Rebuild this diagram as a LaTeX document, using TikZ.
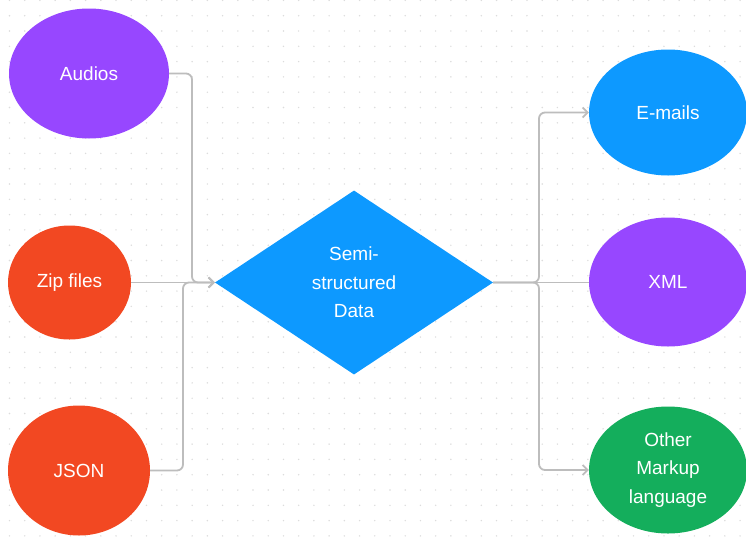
\documentclass[tikz,border=0pt]{standalone}
\usepackage{fontspec}
\setmainfont{Liberation Sans}
\usetikzlibrary{shapes.geometric,arrows.meta}

\definecolor{fjpurple}{HTML}{9747FF}
\definecolor{fjred}{HTML}{F24822}
\definecolor{fjblue}{HTML}{0D99FF}
\definecolor{fjgreen}{HTML}{14AE5C}
\definecolor{wire}{HTML}{BDBDBD}
\definecolor{gridDot}{HTML}{DCDCDC}

\tikzset{
  blob/.style={ellipse, inner sep=0pt, draw=none, text=white, align=center,
    font=\fontsize{19}{28.5}\selectfont},
  hub/.style={diamond, inner sep=0pt, draw=none, fill=fjblue, text=white,
    align=center, font=\fontsize{19}{28.5}\selectfont,
    minimum width=278pt, minimum height=184pt},
  wireline/.style={draw=wire, line width=1.8pt, rounded corners=6pt},
  tip/.style={-{Straight Barb[length=5pt,width=10pt]}}
}

\begin{document}
\begin{tikzpicture}[x=1pt,y=-1pt]
  \useasboundingbox (0,0) rectangle (746,544);
  \fill[white] (0,0) rectangle (746,544);

  % dotted canvas
  \foreach \i in {0,...,48} {
    \foreach \j in {0,...,35} {
      \fill[gridDot] (9.5+15.22*\i, 0.4+15.3*\j) circle (0.8pt);
    }
  }

  % sources
  \node[blob, fill=fjpurple, minimum width=160pt, minimum height=130pt] (audios) at (89,73.5) {Audios};
  \node[blob, fill=fjred, minimum width=123pt, minimum height=114pt] (zip) at (69.5,282.5) {Zip files};
  \node[blob, fill=fjred, minimum width=142pt, minimum height=130pt] (json) at (79,470.5) {JSON};

  % central hub
  \node[hub] (semi) at (354,282.5) {Semi-\\structured\\Data};

  % targets
  \node[blob, fill=fjblue, minimum width=158pt, minimum height=126pt] (email) at (668,112.5) {E-mails};
  \node[blob, fill=fjpurple, minimum width=158pt, minimum height=129pt] (xml) at (668,282) {XML};
  \node[blob, fill=fjgreen, minimum width=158pt, minimum height=127pt] (other) at (668,470) {Other\\Markup\\language};

  % junction bends
  \coordinate (ja) at (192,73.5);
  \coordinate (jj) at (183,470.5);
  \coordinate (jr) at (539,282.5);

  % incoming links
  \draw[wireline, tip] (audios.east) -- (ja) -- (ja |- semi.west) -- (semi.west);
  \draw[wireline, tip] (json.east) -- (jj) -- (jj |- semi.west) -- (semi.west);
  \draw[wireline, tip] (zip.east |- semi.west) -- (semi.west);

  % outgoing links
  \draw[wireline, tip] (semi.east) -- (jr) -- (jr |- email.west) -- (email.west);
  \draw[wireline, tip] (semi.east) -- (jr) -- (jr |- other.west) -- (other.west);
  \draw[wireline] (semi.east) -- (xml.west |- semi.east);
\end{tikzpicture}
\end{document}
